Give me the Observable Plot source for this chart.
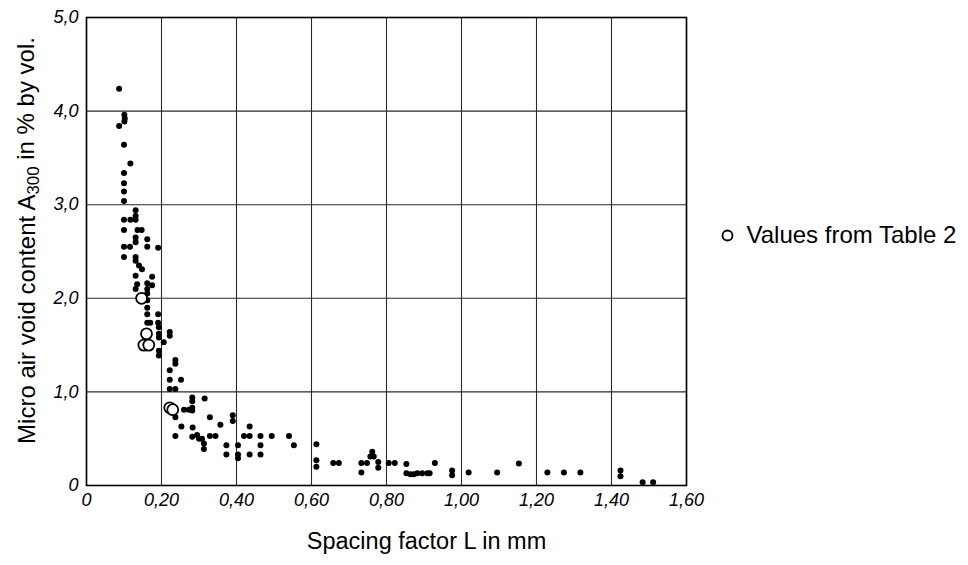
<!DOCTYPE html>
<html>
<head>
<meta charset="utf-8">
<script src="https://cdn.jsdelivr.net/npm/d3@7"></script>
<script src="https://cdn.jsdelivr.net/npm/@observablehq/plot@0.6"></script>
<style>
  html, body { margin: 0; padding: 0; background: #fff; }
  #chart svg { display: block; }
</style>
</head>
<body>
<div id="chart"></div>
<script>
// Spacing factor L (mm) and micro air void content A300 (% by vol.) – measured points
const dotsL = [0.087,0.101,0.102,0.101,0.087,0.100,0.117,0.100,0.100,0.100,0.100,
  0.131,0.131,0.100,0.117,0.131,0.100,0.136,0.147,0.131,0.131,0.162,0.162,0.100,0.116,
  0.191,0.100,0.131,0.131,0.140,0.148,0.131,0.175,0.135,0.162,0.175,0.131,0.162,0.162,
  0.162,0.162,0.162,0.191,0.162,0.170,0.191,0.193,0.193,0.193,0.222,0.222,0.206,0.193,
  0.193,0.237,0.237,0.222,0.222,0.252,0.222,0.237,0.282,0.282,0.315,0.260,0.273,0.282,
  0.282,0.237,0.329,0.390,0.390,0.357,0.253,0.283,0.435,0.237,0.282,0.295,0.300,0.308,
  0.329,0.344,0.420,0.435,0.464,0.494,0.540,0.553,0.313,0.313,0.373,0.404,0.464,0.373,
  0.404,0.404,0.435,0.464,0.613,0.613,0.613,0.658,0.673,0.733,0.748,0.733,0.762,0.757,
  0.766,0.778,0.778,0.806,0.822,0.853,0.853,0.864,0.873,0.882,0.895,0.909,0.915,0.929,
  0.975,0.975,1.019,1.095,1.153,1.229,1.273,1.317,1.424,1.424,1.483,1.511];
const dotsA = [4.24,3.96,3.92,3.89,3.84,3.64,3.44,3.34,3.23,3.14,3.04,
  2.94,2.88,2.84,2.84,2.84,2.73,2.73,2.73,2.65,2.60,2.63,2.55,2.55,2.55,
  2.54,2.44,2.44,2.40,2.35,2.31,2.24,2.23,2.15,2.16,2.14,2.10,2.10,2.05,
  1.98,1.90,1.83,1.83,1.74,1.74,1.74,1.69,1.62,1.58,1.64,1.60,1.53,1.44,
  1.39,1.34,1.30,1.23,1.13,1.13,1.03,1.03,0.94,0.90,0.93,0.81,0.81,0.83,
  0.80,0.73,0.73,0.75,0.69,0.65,0.63,0.62,0.63,0.53,0.52,0.54,0.50,0.50,
  0.53,0.53,0.53,0.53,0.53,0.53,0.53,0.43,0.45,0.39,0.43,0.43,0.43,0.33,
  0.33,0.29,0.33,0.33,0.44,0.27,0.20,0.24,0.24,0.24,0.24,0.14,0.36,0.31,
  0.31,0.25,0.19,0.24,0.24,0.23,0.13,0.12,0.12,0.13,0.13,0.13,0.13,0.24,
  0.16,0.11,0.14,0.14,0.235,0.14,0.14,0.14,0.16,0.10,0.035,0.035];

// Values from Table 2 (open circles)
const tableL = [0.147,0.160,0.153,0.166,0.222,0.230];
const tableA = [2.00,1.62,1.50,1.50,0.83,0.81];

// Ticks
const xTicks = [0,0.2,0.4,0.6,0.8,1.0,1.2,1.4,1.6];
const xTickLabels = ["0","0,20","0,40","0,60","0,80","1,00","1,20","1,40","1,60"];
const yTicks = [0,1,2,3,4,5];
const yTickLabels = ["0","1,0","2,0","3,0","4,0","5,0"];

const xTitle = "Spacing factor L in mm";
const yTitle = "Micro air void content A300 in % by vol.";
const legendLabel = "Values from Table 2";

const measured = dotsL.map((L, i) => ({L, A: dotsA[i]}));
const table2 = tableL.map((L, i) => ({L, A: tableA[i]}));

const sans = "Liberation Sans, Arial, Helvetica, sans-serif";

const chart = Plot.plot({
  width: 968,
  height: 565,
  marginLeft: 86,
  marginRight: 282,
  marginTop: 17,
  marginBottom: 80,
  style: {fontFamily: sans, background: "#fff", color: "#000"},
  x: {domain: [0, 1.6]},
  y: {domain: [0, 5]},
  marks: [
    Plot.ruleX(xTicks, {stroke: "#2a2a2a", strokeWidth: 1.1}),
    Plot.ruleY(yTicks, {stroke: "#2a2a2a", strokeWidth: 1.1}),
    Plot.frame({stroke: "#000", strokeWidth: 1.6}),
    Plot.axisX(xTicks, {
      tickSize: 0, tickPadding: 8, label: null,
      tickFormat: d => xTickLabels[xTicks.indexOf(d)],
      fontSize: 18, fontStyle: "italic", fontFamily: sans, fill: "#000"
    }),
    Plot.axisY(yTicks, {
      tickSize: 0, tickPadding: 8, label: null,
      tickFormat: d => yTickLabels[yTicks.indexOf(d)],
      fontSize: 18, fontStyle: "italic", fontFamily: sans, fill: "#000"
    }),
    Plot.dot(measured, {x: "L", y: "A", r: 3, fill: "#000", stroke: "none"}),
    Plot.dot(table2, {x: "L", y: "A", r: 5.5, fill: "#fff", stroke: "#000", strokeWidth: 1.8}),
    // axis titles
    Plot.text([xTitle], {frameAnchor: "bottom", text: d => d, dx: 40, dy: 63,
      fontSize: 23.5, fontFamily: sans, fill: "#000"}),
    Plot.text([yTitle], {frameAnchor: "left", text: d => d, rotate: -90, textAnchor: "middle",
      fontSize: 24, fontFamily: sans, fill: "#000"}),
    // legend
    Plot.dot([legendLabel], {frameAnchor: "right", dx: 41, dy: -16, r: 5, fill: "#fff",
      stroke: "#000", strokeWidth: 1.8}),
    Plot.text([legendLabel], {frameAnchor: "right", text: d => d, dx: 60, dy: -16,
      textAnchor: "start", fontSize: 24, fontFamily: sans, fill: "#000"})
  ]
});

// place the y title and set subscript "300"
d3.select(chart).selectAll("text").each(function() {
  if (this.textContent === yTitle) {
    const t = d3.select(this);
    t.attr("x", null).attr("y", null)
     .attr("text-anchor", "middle")
     .attr("transform", "translate(34,240) rotate(-90)");
    t.text(null);
    t.append("tspan").text("Micro air void content A");
    t.append("tspan").attr("dy", "0.28em").attr("font-size", "0.7em").text("300");
    t.append("tspan").attr("dy", "-0.2em").text(" in % by vol.");
  }
});

document.getElementById("chart").appendChild(chart);
</script>
</body>
</html>
